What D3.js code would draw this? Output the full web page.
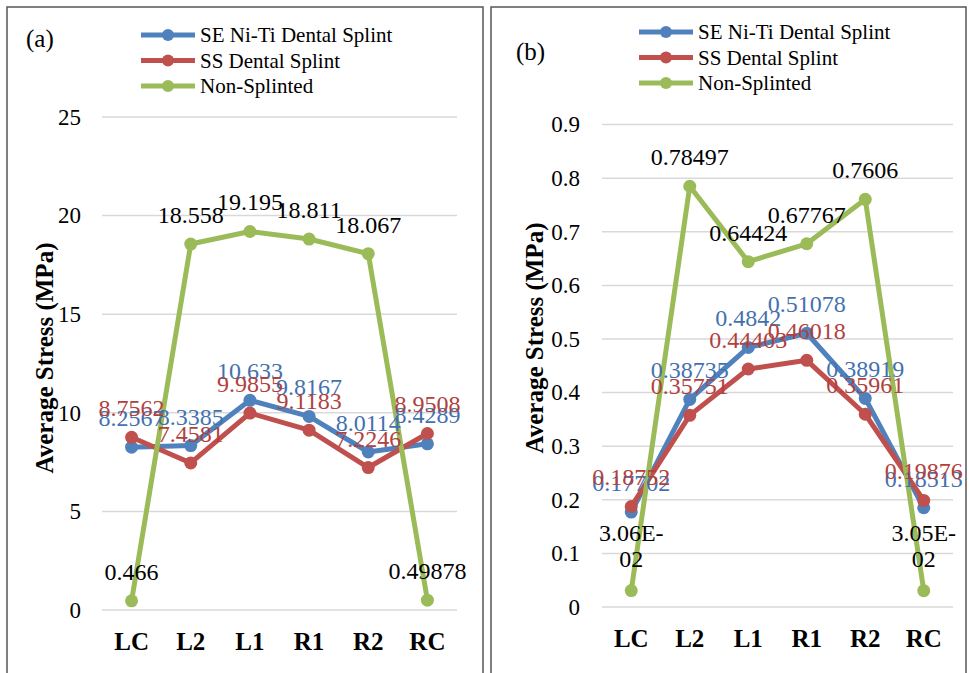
<!DOCTYPE html>
<html><head><meta charset="utf-8">
<script src="https://cdn.jsdelivr.net/npm/d3@7"></script>
<style>body{margin:0;background:#fff}svg{display:block}</style>
</head><body>
<svg id="c" width="969" height="673" style="font-family:'Liberation Serif','Times New Roman','DejaVu Serif',serif"></svg>
<script>
const FONT = "'Liberation Serif','Times New Roman','DejaVu Serif',serif";
const categories = ["LC","L2","L1","R1","R2","RC"];
const seriesNames = ["SE Ni-Ti Dental Splint","SS Dental Splint","Non-Splinted"];
const colors = ["#4F81BD","#C0504D","#9BBB59"];
const labelColors = ["#4471AE","#B0413E","#000000"];
// Panel (a)
const aSE = [8.2567, 8.3385, 10.633, 9.8167, 8.0114, 8.4289];
const aSS = [8.7562, 7.4581, 9.9855, 9.1183, 7.2246, 8.9508];
const aNon = [0.466, 18.558, 19.195, 18.811, 18.067, 0.49878];
const aTicks = [0, 5, 10, 15, 20, 25];
// Panel (b)
const bSE = [0.17702, 0.38735, 0.4842, 0.51078, 0.38919, 0.18513];
const bSS = [0.18752, 0.35751, 0.44403, 0.46018, 0.35961, 0.19876];
const bNon = [0.0306, 0.78497, 0.64424, 0.67767, 0.7606, 0.0305];
const bTicks = [0, 0.1, 0.2, 0.3, 0.4, 0.5, 0.6, 0.7, 0.8, 0.9];

function fmt(v){
  if (v < 0.1) {
    const [m, e] = v.toExponential(2).split("e");
    const sign = e[0] === "-" ? "-" : "+";
    return [m + "E" + sign, e.replace(/^[-+]/, "").padStart(2, "0")];
  }
  return [String(v)];
}

const svg = d3.select("#c");

function txt(sel){ return sel.style("font-family", FONT); }

function panel(o){
  const g = svg.append("g");
  g.append("path").attr("d", `M${o.fx0},673 V${o.fy0} H${o.fx1} V673`)
    .attr("fill","none").attr("stroke","#555").attr("stroke-width",1.5);
  const x = d3.scaleBand().domain(categories).range([o.px0, o.px1]);
  const y = d3.scaleLinear().domain([0, o.ymax]).range([o.py0, o.py1]);
  g.selectAll(".grid").data(o.ticks).join("line")
    .attr("x1", o.px0).attr("x2", o.px1)
    .attr("y1", d => y(d)).attr("y2", d => y(d))
    .attr("stroke","#d9d9d9").attr("stroke-width",1.5);
  const ya = g.append("g").attr("transform", `translate(${o.px0},0)`)
    .call(d3.axisLeft(y).tickValues(o.ticks).tickSize(0).tickPadding(o.px0 - o.tickRight).tickFormat(d => String(d)));
  ya.attr("font-family", null).attr("font-size", null);
  ya.select(".domain").remove();
  txt(ya.selectAll("text")).style("font-size","23px").attr("fill","#000");
  const xa = g.append("g").attr("transform", `translate(0,${o.py0})`)
    .call(d3.axisBottom(x).tickSize(0).tickPadding(0));
  xa.attr("font-family", null).attr("font-size", null);
  xa.select(".domain").remove();
  txt(xa.selectAll("text")).style("font-size","25px").style("font-weight","bold").attr("fill","#000")
    .attr("dy", null).attr("y", o.xLabelY - o.py0);
  txt(g.append("text")).attr("transform", `translate(${o.titleX},${o.titleY}) rotate(-90)`)
    .attr("text-anchor","middle").attr("dominant-baseline","central")
    .style("font-size","25px").style("font-weight","bold").text("Average Stress (MPa)");
  txt(g.append("text")).attr("x", o.tagX).attr("y", o.tagY).style("font-size","25px").text(o.tag);
  const line = d3.line().x((d,i) => x(categories[i]) + x.bandwidth()/2).y(d => y(d));
  o.series.forEach((s, k) => {
    g.append("path").datum(s).attr("d", line).attr("fill","none")
      .attr("stroke", colors[k]).attr("stroke-width",5).attr("stroke-linejoin","round");
    g.selectAll(null).data(s).join("circle")
      .attr("cx",(d,i) => x(categories[i]) + x.bandwidth()/2).attr("cy", d => y(d))
      .attr("r",6.5).attr("fill",colors[k]);
  });
  o.series.forEach((s, k) => {
    s.forEach((v, i) => {
      const parts = fmt(v);
      const cx = x(categories[i]) + x.bandwidth()/2;
      const base = y(v) - (parts.length > 1 ? 24 : 21);
      parts.forEach((p, j) => {
        txt(g.append("text")).attr("x", cx).attr("y", base - (parts.length - 1 - j) * 26)
          .attr("text-anchor","middle").style("font-size","24px").attr("fill",labelColors[k]).text(p);
      });
    });
  });
  seriesNames.forEach((n, k) => {
    const ly = o.legY + k * 25.5;
    g.append("line").attr("x1", o.legX).attr("x2", o.legX + 54).attr("y1", ly).attr("y2", ly)
      .attr("stroke", colors[k]).attr("stroke-width",5);
    g.append("circle").attr("cx", o.legX + 27).attr("cy", ly).attr("r",6).attr("fill",colors[k]);
    txt(g.append("text")).attr("x", o.legX + 59).attr("y", ly + 7).style("font-size","21px").text(n);
  });
}

panel({fx0:7, fx1:483, fy0:7, px0:102, px1:457, py0:610, py1:117, ymax:25, ticks:aTicks,
  tickRight:81, xLabelY:650, titleX:44, titleY:358, tag:"(a)", tagX:26, tagY:47,
  legX:141, legY:35, series:[aSE, aSS, aNon]});
panel({fx0:491, fx1:966, fy0:7, px0:602, px1:953, py0:607, py1:124.6, ymax:0.9, ticks:bTicks,
  tickRight:580, xLabelY:647, titleX:534, titleY:338, tag:"(b)", tagX:516, tagY:60,
  legX:639, legY:32, series:[bSE, bSS, bNon]});
</script>
</body></html>
